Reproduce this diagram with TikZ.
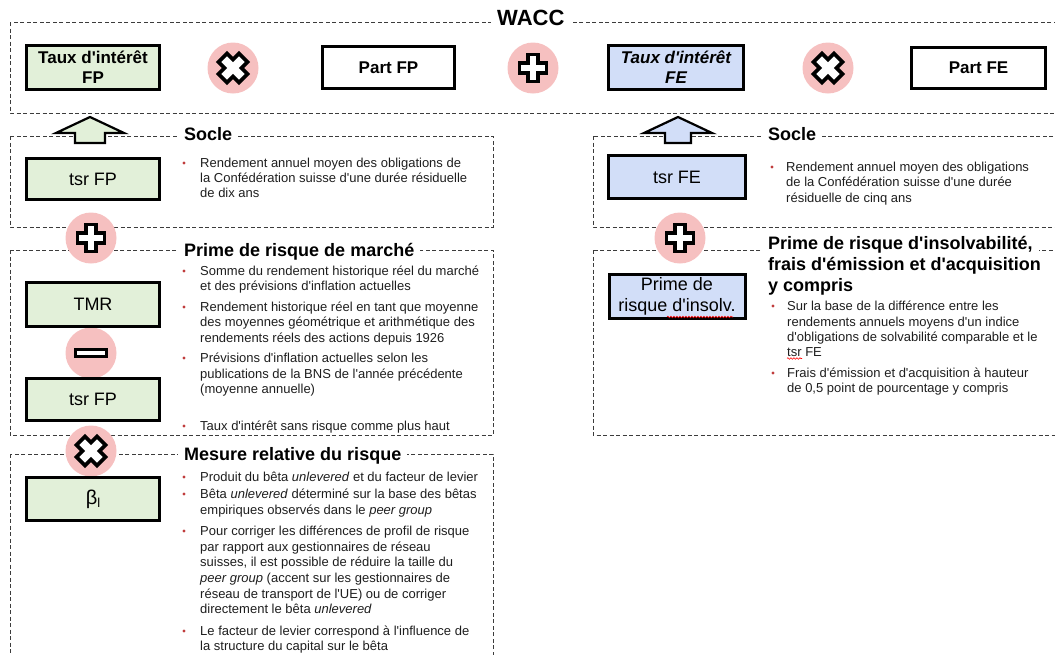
\documentclass[tikz,border=0pt]{standalone}
\usepackage{fontspec}
\setmainfont{Liberation Sans}
\newfontfamily\af{Liberation Sans}
\usetikzlibrary{decorations.pathmorphing}
\definecolor{gfill}{RGB}{226,240,217}
\definecolor{bfill}{RGB}{210,222,248}
\definecolor{opink}{RGB}{246,192,192}
\definecolor{bulred}{RGB}{192,60,60}
\definecolor{txtc}{RGB}{30,30,30}
\definecolor{dashc}{RGB}{60,60,60}
\newcommand\mysym[4]{% node, rotation, half arm width, arm length
  \draw[sym, shift={(#1.center)}, rotate=#2]
    (-#3,-#4) -- (#3,-#4) -- (#3,-#3) -- (#4,-#3) -- (#4,#3) -- (#3,#3) -- (#3,#4)
    -- (-#3,#4) -- (-#3,#3) -- (-#4,#3) -- (-#4,-#3) -- (-#3,-#3) -- cycle;}
\begin{document}
\begin{tikzpicture}[x=1pt,y=-1pt,
  frame/.style={draw=dashc, line width=0.9pt, dash pattern=on 4pt off 2.5pt},
  valbox/.style={draw=black, line width=3pt, inner sep=0pt, align=center, font=\af\fontsize{18}{21}\selectfont},
  topbox/.style={draw=black, line width=3pt, inner sep=0pt, align=center, font=\af\fontsize{17}{20}\selectfont\bfseries},
  opcirc/.style={circle, fill=opink, minimum size=51pt, inner sep=0pt},
  sym/.style={draw=black, line width=3.6pt, fill=white, line join=miter},
  head/.style={anchor=base west, fill=white, inner xsep=6pt, inner ysep=2pt, font=\af\fontsize{18}{21}\selectfont\bfseries},
  body/.style={anchor=base west, inner sep=0pt, text=txtc, font=\af\fontsize{13}{15.5}\selectfont},
  bul/.style={circle, fill=bulred, inner sep=0pt, minimum size=3.2pt},
  uparrow/.style={draw=black, line width=2.2pt, line join=miter},
  spell/.style={draw=red, line width=0.6pt, decorate, decoration={snake, amplitude=0.8pt, segment length=3pt}}
]
\useasboundingbox (0,0) rectangle (1055,654);
\clip (0,0) rectangle (1055,654);

% frames
\draw[frame] (10,22) rectangle (1070,113);
\draw[frame] (10,136) rectangle (493,227);
\draw[frame] (10,250) rectangle (493,435);
\draw[frame] (10,454) rectangle (493,700);
\draw[frame] (593,136) rectangle (1070,227);
\draw[frame] (593,250) rectangle (1070,435);

% operator circles
\node[opcirc] (c1) at (233,68) {};
\node[opcirc] (c2) at (533,68) {};
\node[opcirc] (c3) at (828,68) {};
\node[opcirc] (c4) at (91,238) {};
\node[opcirc] (c5) at (91,353) {};
\node[opcirc] (c6) at (91,451) {};
\node[opcirc] (c7) at (680,238) {};

% top row
\node[topbox, fill=gfill, minimum width=133pt, minimum height=44pt] (tfp) at (93,67.5) {Taux d'intérêt\\FP};
\node[topbox, minimum width=132pt, minimum height=42pt] (pfp) at (388.5,67.5) {Part FP};
\node[topbox, fill=bfill, font=\af\fontsize{17}{20}\selectfont\bfseries\itshape, minimum width=135pt, minimum height=44pt] (tfe) at (676,67.5) {Taux d'intérêt\\FE};
\node[topbox, minimum width=134pt, minimum height=41pt] (pfe) at (978.5,68) {Part FE};

% left column boxes
\node[valbox, fill=gfill, minimum width=133pt, minimum height=41pt] (tsrfp) at (93,179) {tsr FP};
\node[valbox, fill=gfill, minimum width=133pt, minimum height=44pt] (tmr) at (93,304.5) {TMR};
\node[valbox, fill=gfill, minimum width=133pt, minimum height=42pt] (tsrfpb) at (93,399.5) {tsr FP};
\node[valbox, fill=gfill, minimum width=133pt, minimum height=43pt, font=\af\fontsize{20}{22}\selectfont] (beta) at (93,499) {β\raisebox{-3pt}{\fontsize{13}{13}\selectfont l}};

% right column boxes
\node[valbox, fill=bfill, minimum width=137pt, minimum height=43pt] (tsrfe) at (677,177) {tsr FE};
\node[valbox, fill=bfill, minimum width=136pt, minimum height=44pt] (pri) at (677,296) {Prime de\\risque d'insolv.};
\draw[spell] (667,317) -- (733,317);

% operator symbols
\mysym{c1}{45}{6}{14.5}
\mysym{c2}{0}{5}{13.5}
\mysym{c3}{45}{6}{14.5}
\mysym{c4}{0}{5}{13.5}
\draw[sym, shift={(c5.center)}] (-15.5,-3.5) rectangle (15.5,3.5);
\mysym{c6}{45}{6}{14.5}
\mysym{c7}{0}{5}{13.5}

% up arrows
\draw[uparrow, fill=gfill, shift={(90,0)}] (0,117) -- (34,133) -- (15,133) -- (15,143) -- (-15,143) -- (-15,133) -- (-34,133) -- cycle;
\draw[uparrow, fill=bfill, shift={(678,0)}] (0,117) -- (34,133) -- (13,133) -- (13,143) -- (-13,143) -- (-13,133) -- (-34,133) -- cycle;

% headings
\node[head, font=\af\fontsize{22}{24}\selectfont\bfseries] (wacc) at (491,25) {WACC};
\node[head] (hs1) at (178,140.5) {Socle\hspace{4pt}};
\node[head] (hp1) at (178,256.5) {Prime de risque de marché\hspace{4pt}};
\node[head] (hm1) at (178,460) {Mesure relative du risque\hspace{4pt}};
\node[head] (hs2) at (762,140.5) {Socle\hspace{4pt}};
\node[head] (rh1) at (762,249) {Prime de risque d'insolvabilité,};
\node[head, fill=none] (rh2) at (762,270) {frais d'émission et d'acquisition};
\node[head, fill=none] (rh3) at (762,291) {y compris};

% left socle text
\node[bul] (bs1) at (184,163) {};
\node[body] (ls1) at (200,167) {Rendement annuel moyen des obligations de};
\node[body] (ls2) at (200,182) {la Confédération suisse d'une durée résiduelle};
\node[body] (ls3) at (200,197) {de dix ans};

% left prime text
\node[bul] (bp1) at (184,271) {};
\node[body] (lp1) at (200,275) {Somme du rendement historique réel du marché};
\node[body] (lp2) at (200,290) {et des prévisions d'inflation actuelles};
\node[bul] (bp2) at (184,307) {};
\node[body] (lp3) at (200,311) {Rendement historique réel en tant que moyenne};
\node[body] (lp4) at (200,326) {des moyennes géométrique et arithmétique des};
\node[body] (lp5) at (200,342) {rendements réels des actions depuis 1926};
\node[bul] (bp3) at (184,358) {};
\node[body] (lp6) at (200,362) {Prévisions d'inflation actuelles selon les};
\node[body] (lp7) at (200,378) {publications de la BNS de l'année précédente};
\node[body] (lp8) at (200,393) {(moyenne annuelle)};
\node[bul] (bp4) at (184,426) {};
\node[body] (lp9) at (200,430) {Taux d'intérêt sans risque comme plus haut};

% mesure text
\node[bul] (bm1) at (184,477) {};
\node[body] (lm1) at (200,481) {Produit du bêta \textit{unlevered} et du facteur de levier};
\node[bul] (bm2) at (184,494) {};
\node[body] (lm2) at (200,498) {Bêta \textit{unlevered} déterminé sur la base des bêtas};
\node[body] (lm3) at (200,514) {empiriques observés dans le \textit{peer group}};
\node[bul] (bm3) at (184,531) {};
\node[body] (lm4) at (200,535) {Pour corriger les différences de profil de risque};
\node[body] (lm5) at (200,551) {par rapport aux gestionnaires de réseau};
\node[body] (lm6) at (200,566) {suisses, il est possible de réduire la taille du};
\node[body] (lm7) at (200,582) {\textit{peer group} (accent sur les gestionnaires de};
\node[body] (lm8) at (200,598) {réseau de transport de l'UE) ou de corriger};
\node[body] (lm9) at (200,613) {directement le bêta \textit{unlevered}};
\node[bul] (bm4) at (184,631) {};
\node[body] (lm10) at (200,635) {Le facteur de levier correspond à l'influence de};
\node[body] (lm11) at (200,650) {la structure du capital sur le bêta};

% right socle text
\node[bul] (brs) at (772,167) {};
\node[body] (rs1) at (786,171) {Rendement annuel moyen des obligations};
\node[body] (rs2) at (786,186) {de la Confédération suisse d'une durée};
\node[body] (rs3) at (786,202) {résiduelle de cinq ans};

% right prime text
\node[bul] (brp1) at (773,306) {};
\node[body] (rp1) at (787,310) {Sur la base de la différence entre les};
\node[body] (rp2) at (787,326) {rendements annuels moyens d'un indice};
\node[body] (rp3) at (787,341) {d'obligations de solvabilité comparable et le};
\node[body] (rp4) at (787,356) {tsr FE};
\draw[spell] ([yshift=-2.5pt]rp4.base west) -- ++(15,0);
\node[bul] (brp2) at (773,373) {};
\node[body] (rp5) at (787,377) {Frais d'émission et d'acquisition à hauteur};
\node[body] (rp6) at (787,392) {de 0,5 point de pourcentage y compris};
\end{tikzpicture}
\end{document}
